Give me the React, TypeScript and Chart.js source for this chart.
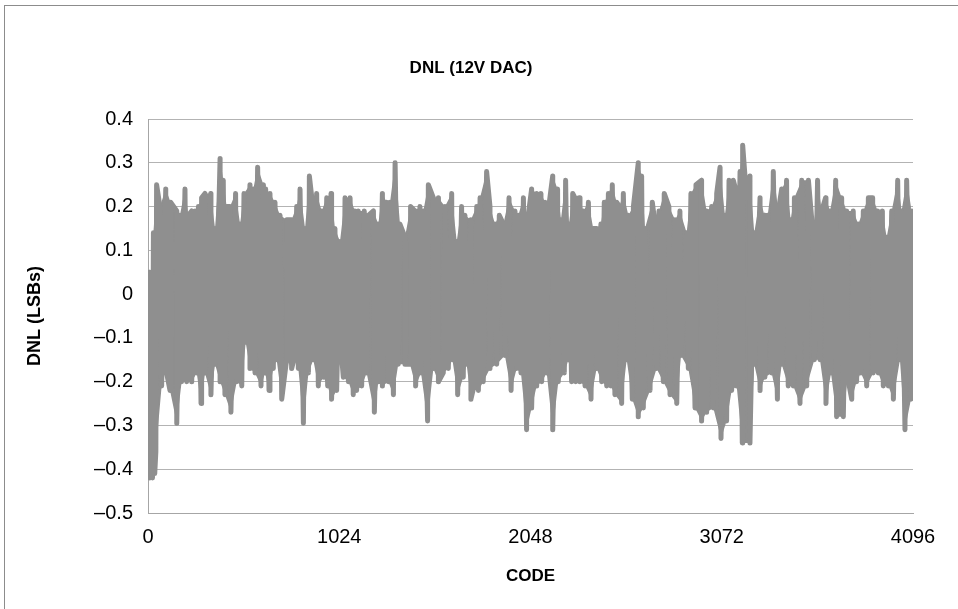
import React, { useEffect, useRef } from "react";
import { Chart, registerables } from "chart.js";

Chart.register(...registerables);

// ---- Data (DNL in LSBs versus code) ----
// Local maxima (upper spikes) of the DNL trace
const peakCodes = [
  0, 6, 18, 29, 46, 64, 95, 121, 154, 171, 198, 216, 234, 252, 270, 287, 305, 336, 359, 386,
  403, 421, 439, 469, 493, 514, 546, 564, 587, 618, 630, 653, 680, 707, 743, 769, 796, 814, 841, 864,
  885, 903, 930, 957, 980, 1001, 1028, 1055, 1082, 1108, 1126, 1158, 1180, 1207, 1233, 1255, 1278, 1296, 1323, 1349,
  1376, 1406, 1430, 1456, 1474, 1501, 1528, 1555, 1590, 1626, 1653, 1679, 1697, 1729, 1760, 1778, 1813, 1831, 1858, 1881,
  1903, 1933, 1965, 1983, 2010, 2033, 2054, 2081, 2104, 2126, 2143, 2167, 2193, 2211, 2236, 2254, 2274, 2286, 2308, 2331,
  2358, 2384, 2402, 2425, 2443, 2465, 2486, 2509, 2524, 2545, 2572, 2599, 2625, 2643, 2661, 2700, 2718, 2736, 2764, 2789,
  2822, 2848, 2884, 2907, 2934, 2964, 2991, 3018, 3045, 3063, 3089, 3111, 3134, 3152, 3170, 3184, 3205, 3223, 3246, 3277,
  3300, 3318, 3348, 3375, 3393, 3419, 3441, 3461, 3500, 3536, 3562, 3585, 3607, 3628, 3652, 3682, 3714, 3741, 3776, 3803,
  3830, 3857, 3880, 3907, 3932, 3955, 3982, 4014, 4035, 4062, 4089, 4095,
];
const peakValues = [
  0.0, 0.05, 0.05, 0.14, 0.25, 0.2, 0.24, 0.21, 0.19, 0.18, 0.24, 0.18, 0.19, 0.19, 0.2, 0.22, 0.23, 0.23, 0.15, 0.31,
  0.26, 0.2, 0.2, 0.23, 0.16, 0.23, 0.25, 0.24, 0.29, 0.25, 0.24, 0.23, 0.21, 0.18, 0.17, 0.17, 0.2, 0.24, 0.15, 0.27,
  0.19, 0.23, 0.19, 0.22, 0.23, 0.15, 0.12, 0.22, 0.22, 0.19, 0.19, 0.19, 0.18, 0.19, 0.16, 0.23, 0.21, 0.21, 0.3, 0.16,
  0.13, 0.2, 0.19, 0.2, 0.19, 0.25, 0.22, 0.22, 0.2, 0.23, 0.12, 0.2, 0.18, 0.17, 0.2, 0.22, 0.28, 0.2, 0.16, 0.18,
  0.16, 0.22, 0.19, 0.18, 0.22, 0.17, 0.24, 0.23, 0.23, 0.21, 0.19, 0.27, 0.24, 0.17, 0.26, 0.16, 0.23, 0.22, 0.22, 0.19,
  0.21, 0.15, 0.15, 0.16, 0.21, 0.23, 0.25, 0.21, 0.2, 0.23, 0.18, 0.2, 0.3, 0.27, 0.15, 0.21, 0.15, 0.19, 0.23, 0.2,
  0.17, 0.19, 0.14, 0.23, 0.25, 0.26, 0.19, 0.2, 0.23, 0.29, 0.18, 0.26, 0.26, 0.23, 0.28, 0.34, 0.22, 0.27, 0.14, 0.22,
  0.18, 0.18, 0.28, 0.19, 0.24, 0.26, 0.17, 0.22, 0.26, 0.26, 0.13, 0.26, 0.19, 0.22, 0.19, 0.26, 0.22, 0.19, 0.19, 0.16,
  0.19, 0.22, 0.22, 0.19, 0.19, 0.13, 0.19, 0.26, 0.19, 0.26, 0.19, 0.05,
];
// Local minima (lower spikes) of the DNL trace
const troughCodes = [
  2, 10, 24, 36, 42, 73, 95, 118, 154, 180, 207, 234, 261, 284, 305, 337, 359, 386, 412, 444,
  475, 502, 523, 546, 573, 605, 627, 648, 671, 689, 716, 742, 769, 787, 805, 832, 859, 885, 912, 939,
  962, 983, 1010, 1028, 1046, 1073, 1099, 1117, 1144, 1171, 1212, 1233, 1255, 1287, 1314, 1340, 1376, 1403, 1433, 1462,
  1497, 1528, 1555, 1581, 1608, 1630, 1658, 1688, 1706, 1729, 1751, 1769, 1795, 1831, 1867, 1911, 1944, 1974, 1997, 2027,
  2054, 2081, 2108, 2135, 2167, 2197, 2229, 2251, 2268, 2290, 2313, 2340, 2372, 2402, 2429, 2456, 2479, 2500, 2536, 2563,
  2593, 2625, 2652, 2688, 2723, 2759, 2795, 2831, 2854, 2893, 2929, 2964, 2991, 3027, 3068, 3098, 3125, 3152, 3182, 3223,
  3246, 3277, 3303, 3339, 3370, 3393, 3428, 3455, 3491, 3527, 3568, 3598, 3630, 3657, 3687, 3723, 3746, 3768, 3794, 3817,
  3848, 3883, 3910, 3937, 3964, 3991, 4026, 4053, 4085,
];
const troughValues = [
  -0.27, -0.42, -0.42, -0.41, -0.36, -0.21, -0.17, -0.22, -0.295, -0.2, -0.2, -0.2, -0.18, -0.25, -0.18, -0.23, -0.16, -0.2, -0.23, -0.27,
  -0.2, -0.21, -0.11, -0.17, -0.18, -0.21, -0.18, -0.22, -0.17, -0.15, -0.24, -0.15, -0.17, -0.14, -0.17, -0.295, -0.18, -0.15, -0.21, -0.19,
  -0.21, -0.24, -0.22, -0.1, -0.19, -0.2, -0.23, -0.22, -0.21, -0.18, -0.27, -0.2, -0.21, -0.2, -0.23, -0.16, -0.16, -0.16, -0.21, -0.18,
  -0.29, -0.17, -0.2, -0.18, -0.17, -0.15, -0.23, -0.19, -0.16, -0.24, -0.2, -0.22, -0.2, -0.17, -0.16, -0.14, -0.22, -0.17, -0.18, -0.31,
  -0.26, -0.21, -0.2, -0.18, -0.31, -0.2, -0.18, -0.15, -0.2, -0.2, -0.2, -0.21, -0.24, -0.17, -0.2, -0.21, -0.21, -0.23, -0.25, -0.15,
  -0.24, -0.28, -0.26, -0.22, -0.17, -0.2, -0.23, -0.25, -0.14, -0.17, -0.26, -0.29, -0.27, -0.26, -0.33, -0.29, -0.22, -0.21, -0.34, -0.34,
  -0.16, -0.22, -0.19, -0.18, -0.24, -0.16, -0.21, -0.21, -0.25, -0.21, -0.15, -0.15, -0.25, -0.18, -0.28, -0.28, -0.19, -0.24, -0.2, -0.18,
  -0.21, -0.18, -0.18, -0.21, -0.21, -0.24, -0.15, -0.31, -0.24,
];

const xTickValues = [0, 1024, 2048, 3072, 4096];
const yTickValues = [-0.5, -0.4, -0.3, -0.2, -0.1, 0, 0.1, 0.2, 0.3, 0.4];

const chartTitle = "DNL (12V DAC)";
const xTitle = "CODE";
const yTitle = "DNL (LSBs)";

const FONT = "'Liberation Sans', Arial, Helvetica, sans-serif";
const TRACE = "#8f8f8f";

function toPoints(codes: number[], values: number[]) {
  return codes.map((c, i) => ({ x: c, y: values[i] }));
}

function tracePoints() {
  const pts: { x: number; y: number; k: number }[] = [];
  peakCodes.forEach((c, i) => pts.push({ x: c, y: peakValues[i], k: 0 }));
  troughCodes.forEach((c, i) => pts.push({ x: c, y: troughValues[i], k: 1 }));
  pts.sort((a, b) => a.x - b.x || a.k - b.k);
  return pts.map((p) => ({ x: p.x, y: p.y }));
}

const framePlugin = {
  id: "frame",
  beforeDraw(chart: any) {
    const ctx = chart.ctx;
    ctx.save();
    ctx.fillStyle = "#ffffff";
    ctx.fillRect(0, 0, chart.width, chart.height);
    ctx.strokeStyle = "#8c8c8c";
    ctx.lineWidth = 1;
    ctx.strokeRect(4.5, 5.5, chart.width + 20, chart.height + 20);
    ctx.restore();
  },
  afterDraw(chart: any) {
    const ctx = chart.ctx;
    ctx.save();
    ctx.fillStyle = "#000";
    ctx.font = `bold 17px ${FONT}`;
    ctx.textAlign = "center";
    ctx.textBaseline = "middle";
    ctx.fillText(chartTitle, 471, 68);
    ctx.restore();
  },
};

function formatY(v: number) {
  const r = Math.round(v * 10) / 10;
  if (r === 0) return "0";
  return r < 0 ? "\u2013" + Math.abs(r).toString() : r.toString();
}

export default function App() {
  const ref = useRef<HTMLCanvasElement | null>(null);
  useEffect(() => {
    if (!ref.current) return;
    const chart = new Chart(ref.current, {
      type: "line",
      data: {
        datasets: [
          {
            label: "upper",
            data: toPoints(peakCodes, peakValues),
            borderWidth: 0,
            borderColor: "rgba(0,0,0,0)",
            backgroundColor: TRACE,
            pointRadius: 0,
            tension: 0,
            fill: "+1",
            order: 2,
          },
          {
            label: "lower",
            data: toPoints(troughCodes, troughValues),
            borderWidth: 0,
            borderColor: "rgba(0,0,0,0)",
            backgroundColor: TRACE,
            pointRadius: 0,
            tension: 0,
            fill: false,
            order: 3,
          },
          {
            label: "DNL",
            data: tracePoints(),
            borderColor: TRACE,
            borderWidth: 5,
            borderJoinStyle: "round",
            borderCapStyle: "round",
            pointRadius: 0,
            tension: 0,
            fill: false,
            order: 1,
          },
        ],
      },
      options: {
        animation: false,
        responsive: true,
        maintainAspectRatio: false,
        layout: { padding: { left: 0, right: 45, top: 119, bottom: 0 } },
        plugins: {
          legend: { display: false },
          tooltip: { enabled: false },
          title: { display: false },
          filler: { propagate: false },
        },
        scales: {
          x: {
            type: "linear",
            min: 0,
            max: 4096,
            afterBuildTicks: (s: any) => {
              s.ticks = xTickValues.map((v) => ({ value: v }));
            },
            afterFit: (s: any) => {
              s.height = 96;
            },
            grid: { display: false, drawTicks: false, tickLength: 0 },
            border: { display: true, color: "#a6a6a6", width: 1 },
            ticks: {
              color: "#000",
              font: { family: FONT, size: 20 },
              padding: 12,
              maxRotation: 0,
              autoSkip: false,
              callback: (v: any) => String(v),
            },
            title: {
              display: true,
              text: xTitle,
              color: "#000",
              font: { family: FONT, size: 17, weight: "bold" },
              padding: { top: 0, bottom: 22 },
            },
          },
          y: {
            type: "linear",
            min: -0.5,
            max: 0.4,
            afterBuildTicks: (s: any) => {
              s.ticks = yTickValues.map((v) => ({ value: v }));
            },
            afterFit: (s: any) => {
              s.width = 148;
            },
            grid: { color: "#b3b3b3", lineWidth: 1, drawTicks: false, tickLength: 0 },
            border: { display: true, color: "#a6a6a6", width: 1 },
            ticks: {
              color: "#000",
              font: { family: FONT, size: 20 },
              padding: 15,
              autoSkip: false,
              callback: (v: any) => formatY(Number(v)),
            },
            title: {
              display: true,
              text: yTitle,
              color: "#000",
              font: { family: FONT, size: 18, weight: "bold" },
              padding: { top: 24, bottom: 0 },
            },
          },
        },
      },
      plugins: [framePlugin],
    } as any);
    return () => chart.destroy();
  }, []);

  return (
    <div style={{ position: "absolute", left: 0, top: 0, width: 958, height: 609 }}>
      <canvas ref={ref} />
    </div>
  );
}
